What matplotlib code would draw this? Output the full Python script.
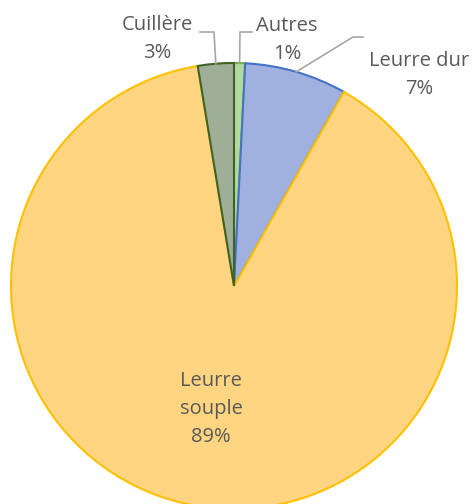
import numpy as np
import matplotlib.pyplot as plt

# share of catches by lure type (%)
labels = ['Autres', 'Leurre dur', 'Leurre souple', 'Cuillère']
values = [0.8, 7.4, 89.2, 2.6]
fills = ['#b3d9a0', '#a0b1e0', '#ffd581', '#9fae96']
edges = ['#70ad47', '#4472c4', '#ffc000', '#3f6326']

plt.rcParams['font.family'] = ['Open Sans', 'DejaVu Sans']

fig = plt.figure(figsize=(4.72, 5.04), dpi=100)
ax = fig.add_axes([0, 0, 1, 1])

cx, cy, r = 234, 286, 223
# y axis is inverted below, so counterclock=True shows clockwise from the top
wedges, _ = ax.pie(values, center=(cx, cy), radius=r, startangle=-90,
                   counterclock=True, colors=fills,
                   wedgeprops=dict(linewidth=1.5))
for w, ec in zip(wedges, edges):
    w.set_edgecolor(ec)

ax.set_xlim(0, 472)
ax.set_ylim(504, 0)
ax.axis('off')

def arc_mid(w):
    a = np.deg2rad((w.theta1 + w.theta2) / 2)
    return cx + r * np.cos(a), cy + r * np.sin(a)

txt = dict(ha='center', va='center', color='#595959', fontsize=14.5, linespacing=1.55)
pct = [f'{round(v)}%' for v in values]
lead = dict(color='#a6a6a6', lw=1.2)

# Cuillère
ex, ey = arc_mid(wedges[3])
ax.plot([200, 214, ex], [32, 32, ey], **lead)
ax.text(157, 39, f'{labels[3]}\n{pct[3]}', **txt)

# Autres
ex, ey = arc_mid(wedges[0])
ax.plot([252, 240, ex], [32, 32, ey], **lead)
ax.text(287, 40, f'{labels[0]}\n{pct[0]}', **txt)

# Leurre dur
ex, ey = arc_mid(wedges[1])
ax.plot([363, 353, ex], [37, 37, ey], **lead)
ax.text(419, 75, f'{labels[1]}\n{pct[1]}', **txt)

# Leurre souple, inside the slice
ax.text(211, 409, 'Leurre\nsouple\n' + pct[2], **txt)

fig.savefig('out.png', dpi=100)
